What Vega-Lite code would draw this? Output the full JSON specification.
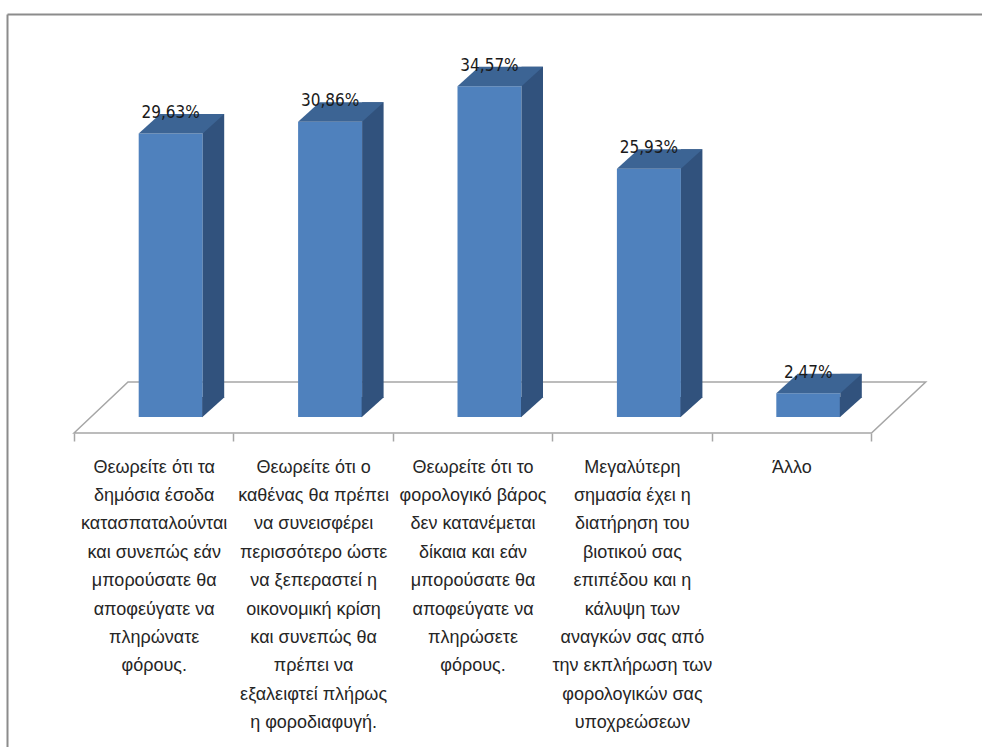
{
  "$schema": "https://vega.github.io/schema/vega-lite/v6.json",
  "width": 975,
  "height": 733,
  "padding": {"left": 7, "top": 14, "right": 0, "bottom": 0},
  "autosize": {"type": "none"},
  "background": "white",
  "config": {
    "view": {"stroke": null},
    "locale": {"number": {"decimal": ",", "thousands": ".", "grouping": [3], "currency": ["", " €"]}}
  },
  "data": {
    "values": [
      {"cat": "Θεωρείτε ότι τα|δημόσια έσοδα|κατασπαταλούνται|και συνεπώς εάν|μπορούσατε θα|αποφεύγατε να|πληρώνατε|φόρους.", "value": 0.2963},
      {"cat": "Θεωρείτε ότι ο|καθένας θα πρέπει|να συνεισφέρει|περισσότερο ώστε|να ξεπεραστεί η|οικονομική κρίση|και συνεπώς θα|πρέπει να|εξαλειφτεί πλήρως|η φοροδιαφυγή.", "value": 0.3086},
      {"cat": "Θεωρείτε ότι το|φορολογικό βάρος|δεν κατανέμεται|δίκαια και εάν|μπορούσατε θα|αποφεύγατε να|πληρώσετε|φόρους.", "value": 0.3457},
      {"cat": "Μεγαλύτερη|σημασία έχει η|διατήρηση του|βιοτικού σας|επιπέδου και η|κάλυψη των|αναγκών σας από|την εκπλήρωση των|φορολογικών σας|υποχρεώσεων", "value": 0.2593},
      {"cat": "Άλλο", "value": 0.0247}
    ]
  },
  "layer": [
    {
      "mark": {"type": "point", "shape": "M-717.3,16L-663.3,-35L134.4,-35L80.2,16Z", "size": 4, "filled": false, "color": "#a6a6a6", "strokeWidth": 1.5},
      "encoding": {
        "x": {"field": "cat", "type": "nominal", "sort": null, "scale": {"type": "band", "paddingInner": 0, "paddingOuter": 0.5583, "align": 0.3764},
              "axis": {"orient": "top", "domain": true, "domainColor": "#8c8c8c", "domainWidth": 2, "ticks": false, "labels": false, "grid": false, "title": null}},
        "y": {"datum": 0, "type": "quantitative", "scale": {"domain": [-0.3448, 0.4211], "nice": false, "zero": false},
              "axis": {"orient": "left", "domain": true, "domainColor": "#8c8c8c", "domainWidth": 2, "ticks": false, "labels": false, "grid": false, "title": null}},
        "opacity": {"condition": {"test": "datum.cat === 'Άλλο'", "value": 1}, "value": 0}
      }
    },
    {
      "mark": {"type": "bar", "width": 64, "xOffset": 17, "color": "#4f81bd"},
      "encoding": {
        "x": {"field": "cat", "type": "nominal", "sort": null, "scale": {"type": "band", "paddingInner": 0, "paddingOuter": 0.5583, "align": 0.3764},
              "axis": {"orient": "bottom", "offset": -314, "tickBand": "extent", "domain": false,
                       "ticks": true, "tickColor": "#a6a6a6", "tickWidth": 1.5, "tickSize": 8, "grid": false, "title": null,
                       "labelAngle": 0, "labelExpr": "split(datum.label, '|')", "labelFont": "Liberation Sans", "labelFontSize": 18,
                       "labelColor": "#262626", "labelLineHeight": 28.4, "labelPadding": 17, "labelBaseline": "top", "labelAlign": "center",
                       "labelLimit": 400, "labelOverlap": false}},
        "y": {"field": "value", "type": "quantitative", "scale": {"domain": [-0.3448, 0.4211], "nice": false, "zero": false}, "axis": null},
        "y2": {"datum": 0}
      }
    },
    {
      "mark": {"type": "bar", "width": 21.5, "xOffset": 59.75, "yOffset": -19.5, "y2Offset": -19.5, "color": "#31527d"},
      "encoding": {
        "x": {"field": "cat", "type": "nominal", "sort": null, "axis": null},
        "y": {"field": "value", "type": "quantitative", "axis": null},
        "y2": {"datum": 0}
      }
    },
    {
      "mark": {"type": "point", "shape": "M31.5,0.3L31.5,-20L54,-20Z", "size": 4, "filled": true, "fill": "#31527d", "strokeWidth": 0, "opacity": 1, "xOffset": 17},
      "encoding": {
        "x": {"field": "cat", "type": "nominal", "sort": null, "axis": null},
        "y": {"datum": 0, "type": "quantitative", "axis": null}
      }
    },
    {
      "mark": {"type": "point", "shape": "M-32,0L32,0L53.5,-19.5L-10.5,-19.5Z", "size": 4, "filled": true, "fill": "#3c6494", "strokeWidth": 0, "opacity": 1, "xOffset": 17},
      "encoding": {
        "x": {"field": "cat", "type": "nominal", "sort": null, "axis": null},
        "y": {"field": "value", "type": "quantitative", "axis": null}
      }
    },
    {
      "mark": {"type": "text", "xOffset": 17, "yOffset": -15.5, "baseline": "alphabetic", "align": "center", "font": "DejaVu Sans Condensed, Liberation Sans", "fontSize": 17, "color": "#1a1a1a"},
      "encoding": {
        "x": {"field": "cat", "type": "nominal", "sort": null, "axis": null},
        "y": {"field": "value", "type": "quantitative", "axis": null},
        "text": {"field": "value", "type": "quantitative", "format": ".2%"}
      }
    }
  ],
  "resolve": {"axis": {"x": "independent", "y": "independent"}}
}
